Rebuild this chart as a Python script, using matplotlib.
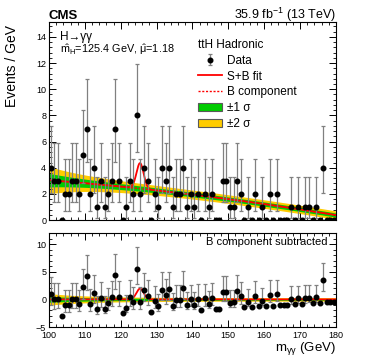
import numpy as np
import matplotlib
matplotlib.use('Agg')
import matplotlib.pyplot as plt
from matplotlib.lines import Line2D
from matplotlib.patches import Patch
from matplotlib.ticker import MultipleLocator

plt.rcParams['font.family'] = ['Liberation Sans', 'DejaVu Sans']
plt.rcParams['mathtext.fontset'] = 'custom'
plt.rcParams['mathtext.rm'] = 'Liberation Sans'
plt.rcParams['mathtext.it'] = 'Liberation Sans'
plt.rcParams['mathtext.sf'] = 'Liberation Sans'

# binning (1 GeV bins, 100-180 GeV)
mass_lo = 100.0
mass_hi = 180.0
bin_w = 1.0

# events per bin
counts = [4, 3, 3, 0, 2, 2, 3, 3, 2, 5,
          7, 2, 4, 1, 3, 1, 2, 3, 7, 3,
          0, 1, 3, 2, 8, 2, 4, 3, 0, 2,
          1, 4, 3, 4, 1, 2, 2, 4, 1, 2,
          1, 2, 0, 2, 1, 2, 0, 0, 3, 3,
          1, 1, 3, 2, 0, 1, 0, 2, 0, 1,
          0, 2, 0, 2, 0, 0, 0, 1, 0, 1,
          0, 1, 1, 0, 1, 0, 4, 0, 0, 0]

# 68% Poisson intervals for n = 0..8 (empty bins drawn without a bar)
pois_lo = [0.0, 0.827, 1.292, 1.633, 1.914, 2.159, 2.380, 2.581, 2.768]
pois_hi = [0.0, 2.299, 2.638, 2.918, 3.162, 3.382, 3.583, 3.770, 3.945]

# fit: background polynomial in x=(m-100)/80, gaussian signal
bkg_coef = [3.05, -1.73, -0.94]
sig_mass = 125.4
sig_width = 1.0
sig_peak = 1.95
mu_hat = 1.18
# band half width (1 sigma) = a + b*exp(-(m-100)/c)
band_a, band_b, band_c = 0.16, 0.36, 12.0

c_green = '#00cc00'
c_yellow = '#ffcc00'
c_red = '#ff0000'


def bkg(m):
    x = (m - mass_lo) / (mass_hi - mass_lo)
    return bkg_coef[0] + bkg_coef[1]*x + bkg_coef[2]*x**2


def sig(m):
    return sig_peak * np.exp(-0.5*((m - sig_mass)/sig_width)**2)


def band(m):
    return band_a + band_b*np.exp(-(m - mass_lo)/band_c)


counts = np.array(counts)
centers = mass_lo + bin_w*(np.arange(len(counts)) + 0.5)
err_lo = np.array([pois_lo[n] for n in counts])
err_hi = np.array([pois_hi[n] for n in counts])

mm = np.linspace(mass_lo, mass_hi, 801)
b = bkg(mm)
s1 = band(mm)

fig = plt.figure(figsize=(3.74, 3.59), dpi=100)
ax1 = fig.add_axes([0.131, 0.387, 0.767, 0.552])
ax2 = fig.add_axes([0.131, 0.089, 0.767, 0.262])

# ---- top panel ----
ax1.fill_between(mm, b - 2*s1, b + 2*s1, color=c_yellow, lw=0)
ax1.fill_between(mm, b - s1, b + s1, color=c_green, lw=0)
ax1.plot(mm, b, color=c_red, lw=1.0, ls=(0, (1.5, 1.2)))
ax1.plot(mm, b + sig(mm), color=c_red, lw=1.3)
data_h = ax1.errorbar(centers, counts, yerr=[err_lo, err_hi], fmt='o', color='black',
                      ms=3.3, ecolor='0.5', elinewidth=0.9, capsize=1.5, capthick=0.9)

ax1.set_xlim(mass_lo, mass_hi)
ax1.set_ylim(0, 15.15)
ax1.xaxis.set_major_locator(MultipleLocator(10))
ax1.xaxis.set_minor_locator(MultipleLocator(2))
ax1.yaxis.set_major_locator(MultipleLocator(2))
ax1.yaxis.set_minor_locator(MultipleLocator(0.4))
ax1.tick_params(labelbottom=False)
ax1.set_ylabel('Events / GeV', loc='top', fontsize=10)
ax1.yaxis.set_label_coords(-0.105, 0.985)

ax1.text(0.038, 0.925, 'H\u2192\u03b3\u03b3', transform=ax1.transAxes,
         fontsize=8.5, va='center', ha='left')
ax1.text(0.038, 0.862, r'$\hat{\mathrm{m}}_{\mathrm{H}}$=125.4 GeV, $\hat{\mu}$=%.2f' % mu_hat,
         transform=ax1.transAxes, fontsize=7.8, va='center', ha='left')

handles = [data_h,
           Line2D([], [], color=c_red, lw=1.3),
           Line2D([], [], color=c_red, lw=1.0, ls=(0, (1.5, 1.2))),
           Patch(facecolor=c_green, edgecolor='0.35', lw=0.8),
           Patch(facecolor=c_yellow, edgecolor='0.35', lw=0.8)]
labels = ['Data', 'S+B fit', 'B component', '\u00b11 \u03c3', '\u00b12 \u03c3']
ax1.legend(handles, labels, title='ttH Hadronic', loc='upper left',
           bbox_to_anchor=(0.52, 0.915), frameon=False, fontsize=8.5,
           title_fontsize=8.5, handlelength=2.0, handletextpad=0.45,
           labelspacing=0.33, borderpad=0, borderaxespad=0, alignment='left')

# ---- bottom panel ----
ax2.fill_between(mm, -2*s1, 2*s1, color=c_yellow, lw=0)
ax2.fill_between(mm, -s1, s1, color=c_green, lw=0)
ax2.plot(mm, sig(mm), color=c_red, lw=1.3)
ax2.errorbar(centers, counts - bkg(centers), yerr=[err_lo, err_hi], fmt='o', color='black',
             ms=3.3, ecolor='0.5', elinewidth=0.9, capsize=1.5, capthick=0.9)
ax2.set_xlim(mass_lo, mass_hi)
ax2.set_ylim(-5, 12)
ax2.xaxis.set_major_locator(MultipleLocator(10))
ax2.xaxis.set_minor_locator(MultipleLocator(2))
ax2.yaxis.set_major_locator(MultipleLocator(5))
ax2.yaxis.set_minor_locator(MultipleLocator(1))
ax2.set_xlabel(r'm$_{\gamma\gamma}$ (GeV)', loc='right', fontsize=9.5)
ax2.xaxis.set_label_coords(1.0, -0.14)
ax2.text(0.972, 0.905, 'B component subtracted', transform=ax2.transAxes,
         fontsize=8, va='center', ha='right')

for ax in (ax1, ax2):
    ax.tick_params(which='both', direction='in', top=True, right=True, labelsize=6.5, pad=2)
    ax.tick_params(which='major', length=5, width=0.7)
    ax.tick_params(which='minor', length=2.5, width=0.6)
    for sp in ax.spines.values():
        sp.set_linewidth(0.8)
ax2.tick_params(axis='x', pad=3)

fig.text(0.131, 0.948, 'CMS', fontsize=9.5, fontweight='bold', ha='left', va='baseline')
fig.text(0.898, 0.948, r'35.9 fb$^{-1}$ (13 TeV)', fontsize=9, ha='right', va='baseline')

fig.savefig('out.png', dpi=100)
